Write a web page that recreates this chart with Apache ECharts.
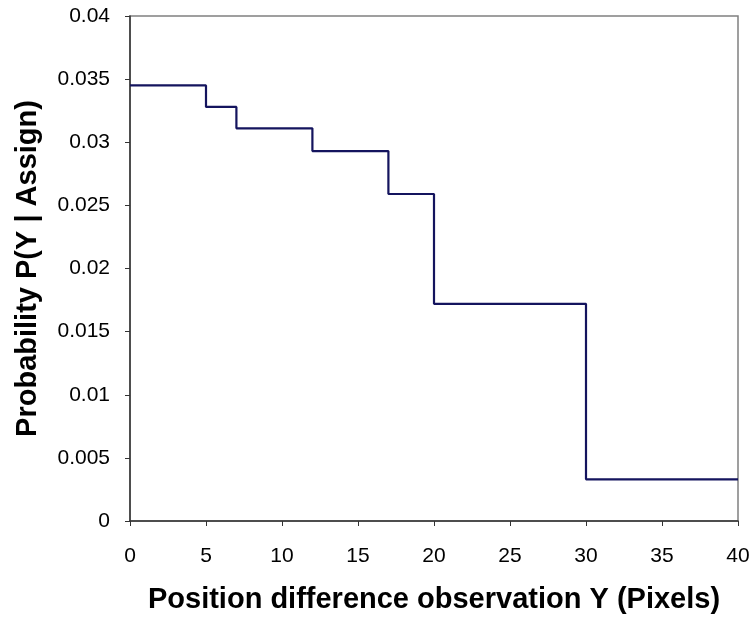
<!DOCTYPE html>
<html>
<head>
<meta charset="utf-8">
<script src="https://cdn.jsdelivr.net/npm/echarts@6/dist/echarts.min.js"></script>
<style>
  html, body { margin: 0; padding: 0; background: #fff; }
  #main { width: 754px; height: 619px; }
</style>
</head>
<body>
<div id="main"></div>
<script>
// step edges (pixels) and probability level starting at each edge
var stepX = [0, 5, 7, 12, 17, 20, 30, 40];
var stepP = [0.0345, 0.0328, 0.0311, 0.0293, 0.0259, 0.0172, 0.0033, 0.0033];

var xTitle = 'Position difference observation Y (Pixels)';
var yTitle = 'Probability P(Y | Assign)';

var points = stepX.map(function (x, i) { return [x, stepP[i]]; });

var chart = echarts.init(document.getElementById('main'));
var font = 'Liberation Sans, Arial, sans-serif';

chart.setOption({
  animation: false,
  backgroundColor: '#fff',
  grid: {
    left: 130, right: 16, top: 16, bottom: 98,
    show: true, borderColor: '#808080', borderWidth: 1.5, backgroundColor: 'transparent'
  },
  xAxis: {
    type: 'value',
    min: 0, max: 40, interval: 5,
    name: xTitle,
    nameLocation: 'middle',
    nameGap: 64,
    nameTextStyle: { fontFamily: font, fontSize: 29, fontWeight: 'bold', color: '#000' },
    axisLine: { lineStyle: { color: '#333', width: 1.5 } },
    axisTick: { show: true, inside: false, length: 5, lineStyle: { color: '#333' } },
    axisLabel: { fontFamily: font, fontSize: 21, color: '#000', margin: 25 },
    splitLine: { show: false }
  },
  yAxis: {
    type: 'value',
    min: 0, max: 0.04, interval: 0.005,
    name: yTitle,
    nameLocation: 'middle',
    nameRotate: 90,
    nameGap: 88,
    nameTextStyle: { fontFamily: font, fontSize: 29, fontWeight: 'bold', color: '#000' },
    axisLine: { show: true, lineStyle: { color: '#333', width: 1.5 } },
    axisTick: { show: true, inside: false, length: 5, lineStyle: { color: '#333' } },
    axisLabel: { fontFamily: font, fontSize: 21, color: '#000', margin: 20 },
    splitLine: { show: false }
  },
  series: [{
    type: 'line',
    step: 'end',
    data: points,
    symbol: 'none',
    lineStyle: { color: '#14145e', width: 2.2 }
  }]
});
</script>
</body>
</html>
